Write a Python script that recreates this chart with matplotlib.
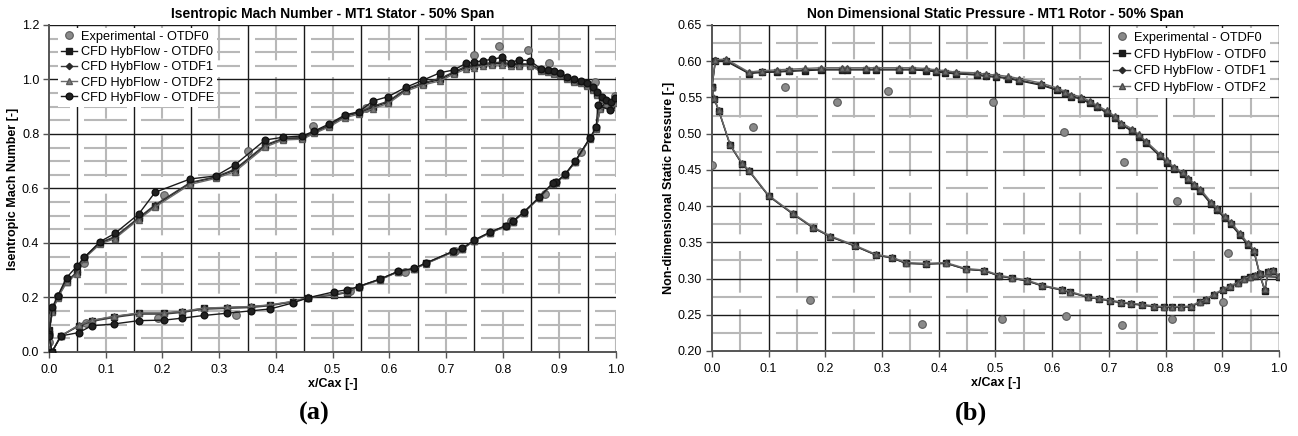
import matplotlib
matplotlib.use('Agg')
import matplotlib.pyplot as plt
import numpy as np

plt.rcParams['font.family'] = ['Liberation Sans', 'DejaVu Sans']
plt.rcParams['lines.scale_dashes'] = False

# ---------------- (a) isentropic Mach number, MT1 stator ----------------
xa_exp = [0.0, 0.015, 0.061, 0.203, 0.35, 0.466, 0.559, 0.75, 0.794, 0.844, 0.882, 0.963, 0.998,
          0.938, 0.875, 0.815, 0.716, 0.628, 0.53, 0.329, 0.193, 0.066]
ya_exp = [0.035, 0.207, 0.325, 0.576, 0.739, 0.829, 0.897, 1.09, 1.124, 1.108, 1.059, 0.992, 0.94,
          0.735, 0.58, 0.48, 0.37, 0.295, 0.225, 0.136, 0.126, 0.108]

# suction side (LE -> TE) then pressure side (TE -> LE)
xa_ss = [0.0, 0.006, 0.015, 0.031, 0.05, 0.062, 0.09, 0.116, 0.158, 0.187, 0.249, 0.294, 0.328, 0.381,
         0.413, 0.447, 0.468, 0.494, 0.522, 0.547, 0.571, 0.598, 0.629, 0.66, 0.69, 0.714, 0.735, 0.75,
         0.766, 0.781, 0.798, 0.814, 0.829, 0.848, 0.867, 0.88, 0.891, 0.901, 0.913, 0.926, 0.939, 0.949,
         0.959, 0.966, 0.975, 0.983, 0.991, 0.998]
xa_ps = [0.972, 0.965, 0.954, 0.928, 0.91, 0.895, 0.888, 0.865, 0.837, 0.818, 0.806, 0.778, 0.75, 0.729,
         0.713, 0.665, 0.644, 0.616, 0.584, 0.546, 0.525, 0.503, 0.457, 0.43, 0.39, 0.356, 0.313, 0.273,
         0.234, 0.203, 0.158, 0.115, 0.075, 0.052, 0.021, 0.005, 0.0]

ya0_ss = [0.08, 0.15, 0.20, 0.258, 0.292, 0.345, 0.40, 0.42, 0.49, 0.537, 0.62, 0.641, 0.668, 0.757,
          0.782, 0.785, 0.806, 0.83, 0.865, 0.878, 0.898, 0.917, 0.962, 0.985, 1.0, 1.025, 1.044, 1.048,
          1.055, 1.058, 1.059, 1.055, 1.054, 1.054, 1.035, 1.03, 1.025, 1.02, 1.005, 0.995, 0.99, 0.98,
          0.965, 0.948, 0.93, 0.915, 0.905, 0.92]
ya0_ps = [0.895, 0.821, 0.784, 0.698, 0.65, 0.622, 0.617, 0.567, 0.511, 0.478, 0.462, 0.438, 0.409, 0.378,
          0.368, 0.325, 0.305, 0.295, 0.266, 0.24, 0.218, 0.209, 0.199, 0.185, 0.172, 0.166, 0.163, 0.16,
          0.148, 0.142, 0.142, 0.13, 0.115, 0.097, 0.059, 0.0, 0.065]

ya1_ss = [0.078, 0.152, 0.202, 0.26, 0.295, 0.346, 0.402, 0.423, 0.493, 0.54, 0.622, 0.643, 0.671, 0.76,
          0.784, 0.787, 0.808, 0.832, 0.867, 0.88, 0.902, 0.92, 0.965, 0.988, 1.004, 1.028, 1.048, 1.052,
          1.058, 1.062, 1.063, 1.058, 1.058, 1.057, 1.037, 1.032, 1.027, 1.021, 1.007, 0.997, 0.992, 0.982,
          0.967, 0.95, 0.932, 0.918, 0.907, 0.922]
ya1_ps = [0.893, 0.82, 0.784, 0.699, 0.651, 0.623, 0.618, 0.568, 0.512, 0.479, 0.463, 0.439, 0.41, 0.379,
          0.369, 0.326, 0.306, 0.296, 0.267, 0.241, 0.22, 0.211, 0.2, 0.184, 0.17, 0.163, 0.16, 0.157,
          0.145, 0.139, 0.139, 0.127, 0.112, 0.095, 0.059, 0.0, 0.066]

ya2_ss = [0.075, 0.147, 0.198, 0.255, 0.288, 0.343, 0.396, 0.416, 0.486, 0.532, 0.615, 0.637, 0.662, 0.752,
          0.778, 0.781, 0.802, 0.826, 0.86, 0.873, 0.893, 0.912, 0.957, 0.98, 0.995, 1.02, 1.038, 1.043,
          1.05, 1.052, 1.054, 1.05, 1.049, 1.05, 1.03, 1.026, 1.021, 1.016, 1.001, 0.991, 0.986, 0.977,
          0.961, 0.944, 0.926, 0.911, 0.9, 0.915]
ya2_ps = [0.89, 0.818, 0.782, 0.697, 0.649, 0.621, 0.616, 0.566, 0.51, 0.477, 0.461, 0.437, 0.408, 0.377,
          0.367, 0.324, 0.304, 0.294, 0.265, 0.239, 0.22, 0.212, 0.2, 0.186, 0.173, 0.167, 0.164, 0.161,
          0.149, 0.143, 0.143, 0.131, 0.116, 0.098, 0.06, 0.0, 0.062]

xae_ps = [0.989, 0.968, 0.965, 0.954, 0.928, 0.91, 0.895, 0.888, 0.865, 0.837, 0.818, 0.806, 0.778, 0.75,
          0.729, 0.713, 0.665, 0.644, 0.616, 0.584, 0.546, 0.525, 0.503, 0.457, 0.43, 0.39, 0.356, 0.313,
          0.273, 0.234, 0.203, 0.158, 0.115, 0.075, 0.052, 0.021, 0.005, 0.0]
yae_ss = [0.065, 0.165, 0.205, 0.273, 0.317, 0.347, 0.405, 0.435, 0.506, 0.586, 0.635, 0.646, 0.687, 0.778,
          0.788, 0.793, 0.811, 0.837, 0.87, 0.882, 0.921, 0.937, 0.971, 0.998, 1.025, 1.035, 1.059, 1.064,
          1.069, 1.074, 1.081, 1.062, 1.072, 1.069, 1.04, 1.034, 1.032, 1.025, 1.01, 1.0, 0.995, 0.986,
          0.971, 0.955, 0.937, 0.925, 0.918, 0.933]
yae_ps = [0.888, 0.905, 0.825, 0.786, 0.70, 0.652, 0.624, 0.619, 0.569, 0.513, 0.48, 0.464, 0.44, 0.411,
          0.38, 0.37, 0.327, 0.307, 0.296, 0.268, 0.24, 0.228, 0.221, 0.199, 0.18, 0.158, 0.151, 0.142,
          0.134, 0.124, 0.117, 0.115, 0.103, 0.096, 0.071, 0.059, 0.0, 0.06]

# ---------------- (b) non dimensional static pressure, MT1 rotor ----------------
xb_exp = [0.0, 0.073, 0.129, 0.173, 0.221, 0.31, 0.37, 0.495, 0.511, 0.621, 0.624, 0.727, 0.724,
          0.82, 0.812, 0.901, 0.911]
yb_exp = [0.457, 0.5096, 0.564, 0.2704, 0.544, 0.5593, 0.2373, 0.5441, 0.2442, 0.5027, 0.2487, 0.4613,
          0.2359, 0.4075, 0.2442, 0.268, 0.3357]

# pressure side (LE -> TE) then suction side (TE -> LE)
xb_ps = [0.0, 0.006, 0.025, 0.065, 0.089, 0.114, 0.136, 0.164, 0.192, 0.229, 0.238, 0.272, 0.289, 0.33,
         0.353, 0.377, 0.395, 0.411, 0.43, 0.467, 0.483, 0.501, 0.523, 0.542, 0.58, 0.609, 0.623, 0.634,
         0.651, 0.666, 0.679, 0.696, 0.711, 0.722, 0.74, 0.753, 0.765, 0.79, 0.802, 0.815, 0.83, 0.839,
         0.851, 0.861, 0.88, 0.891, 0.905, 0.915, 0.931, 0.945, 0.956]
xb_ss = [0.966, 0.975, 0.981, 0.99, 1.0, 0.958, 0.949, 0.939, 0.927, 0.913, 0.901, 0.885, 0.871, 0.86,
         0.845, 0.828, 0.811, 0.797, 0.78, 0.758, 0.739, 0.721, 0.702, 0.683, 0.663, 0.632, 0.617, 0.583,
         0.555, 0.53, 0.507, 0.48, 0.448, 0.413, 0.377, 0.342, 0.318, 0.289, 0.252, 0.209, 0.179, 0.143,
         0.1, 0.065, 0.053, 0.032, 0.012, 0.004, 0.0]

yb0_ps = [0.564, 0.600, 0.600, 0.583, 0.5845, 0.585, 0.586, 0.587, 0.588, 0.588, 0.588, 0.588, 0.588,
          0.588, 0.588, 0.587, 0.5855, 0.584, 0.5825, 0.581, 0.579, 0.578, 0.576, 0.573, 0.567, 0.560,
          0.5557, 0.551, 0.548, 0.542, 0.5364, 0.529, 0.521, 0.512, 0.504, 0.496, 0.4875, 0.469, 0.46,
          0.451, 0.444, 0.436, 0.428, 0.421, 0.403, 0.394, 0.383, 0.375, 0.360, 0.3463, 0.337]
yb0_ss = [0.306, 0.283, 0.309, 0.311, 0.302, 0.3035, 0.3017, 0.299, 0.2934, 0.2888, 0.2842, 0.2773, 0.2704,
          0.2672, 0.2612, 0.2603, 0.2603, 0.2603, 0.2612, 0.2635, 0.2649, 0.2667, 0.2694, 0.2718, 0.2741,
          0.281, 0.2842, 0.2897, 0.297, 0.3003, 0.3035, 0.3108, 0.3128, 0.321, 0.32, 0.321, 0.3284, 0.3325,
          0.3449, 0.3578, 0.3698, 0.389, 0.4139, 0.4489, 0.4581, 0.4843, 0.5317, 0.5479, 0.564]

yb1_ps = [0.564, 0.601, 0.601, 0.584, 0.5855, 0.586, 0.587, 0.588, 0.589, 0.589, 0.589, 0.589, 0.589,
          0.589, 0.589, 0.588, 0.5865, 0.585, 0.5835, 0.582, 0.580, 0.579, 0.577, 0.574, 0.568, 0.561,
          0.5567, 0.552, 0.549, 0.543, 0.5374, 0.530, 0.522, 0.513, 0.505, 0.497, 0.4885, 0.470, 0.461,
          0.452, 0.445, 0.437, 0.429, 0.422, 0.404, 0.395, 0.384, 0.376, 0.361, 0.3473, 0.338]
yb1_ss = [0.306, 0.284, 0.309, 0.311, 0.302, 0.3035, 0.3017, 0.299, 0.2934, 0.2888, 0.2842, 0.2773, 0.2704,
          0.2672, 0.2612, 0.2603, 0.2603, 0.2603, 0.2612, 0.2635, 0.2649, 0.2667, 0.2694, 0.2718, 0.2741,
          0.281, 0.2842, 0.2897, 0.297, 0.3003, 0.3035, 0.3108, 0.3128, 0.321, 0.32, 0.321, 0.3284, 0.3325,
          0.3449, 0.3578, 0.3698, 0.389, 0.4139, 0.4489, 0.4581, 0.4843, 0.5317, 0.5479, 0.564]

yb2_ps = [0.565, 0.602, 0.603, 0.585, 0.587, 0.588, 0.589, 0.590, 0.591, 0.591, 0.591, 0.591, 0.591,
          0.591, 0.591, 0.590, 0.588, 0.587, 0.585, 0.584, 0.582, 0.581, 0.579, 0.576, 0.570, 0.563,
          0.558, 0.554, 0.551, 0.545, 0.539, 0.532, 0.524, 0.515, 0.507, 0.499, 0.490, 0.472, 0.463,
          0.454, 0.447, 0.439, 0.431, 0.424, 0.406, 0.397, 0.386, 0.378, 0.363, 0.349, 0.340]
yb2_ss = [0.307, 0.285, 0.310, 0.312, 0.303, 0.3045, 0.3027, 0.300, 0.2944, 0.2898, 0.2852, 0.2783, 0.2714,
          0.2682, 0.2622, 0.2613, 0.2613, 0.2613, 0.2622, 0.2645, 0.2659, 0.2677, 0.2704, 0.2728, 0.2751,
          0.282, 0.2852, 0.2907, 0.298, 0.3013, 0.3045, 0.3118, 0.3138, 0.322, 0.321, 0.322, 0.3294, 0.3335,
          0.3459, 0.3588, 0.3708, 0.390, 0.4149, 0.4499, 0.4591, 0.4853, 0.5327, 0.5489, 0.565]

fig = plt.figure(figsize=(12.98, 4.36), dpi=100)
axa = fig.add_axes([0.0378, 0.1927, 0.4368, 0.75])
axb = fig.add_axes([0.5485, 0.195, 0.4368, 0.7477])


def draw_grid(ax, xlim, ylim, bx, by, gx, gy):
    # gray broken lines first, black lines on top
    xgap = 0.0125 * (xlim[1] - xlim[0])
    breaks = [xlim[0]] + list(bx) + [xlim[1]]
    for y in gy:
        for a, b in zip(breaks[:-1], breaks[1:]):
            a2 = a + xgap if a > xlim[0] else a
            b2 = b - xgap if b < xlim[1] else b
            ax.plot([a2, b2], [y, y], color='#b8b8b8', lw=1.5, zorder=0.5, solid_capstyle='butt')
    for x in gx:
        ax.plot([x, x], ylim, color='#b8b8b8', lw=1.5, zorder=0.5, ls=(0, (30, 12)))
    for x in bx:
        ax.axvline(x, color='#1a1a1a', lw=1.0, zorder=0.6)
    for y in by:
        ax.axhline(y, color='#1a1a1a', lw=1.0, zorder=0.6)


def style_axes(ax):
    for s in ['top', 'right']:
        ax.spines[s].set_visible(False)
    for s in ['left', 'bottom']:
        ax.spines[s].set_color('#555555')
        ax.spines[s].set_linewidth(1.4)
    ax.tick_params(direction='out', length=4, width=1, color='#555555', labelsize=9, pad=3)
    ax.tick_params(axis='x', pad=5)


# ---- panel a
draw_grid(axa, (0, 1), (0, 1.2),
          np.arange(0.05, 1.0, 0.1), np.arange(0.2, 1.21, 0.2),
          np.arange(0.1, 1.01, 0.1),
          [v for v in np.arange(0.05, 1.2, 0.05) if abs(v / 0.2 - round(v / 0.2)) > 1e-6])

axa.plot(xa_exp, ya_exp, 'o', ls='none', ms=5.5, mfc='#8a8a8a', mec='#5a5a5a', mew=0.8,
         label='Experimental - OTDF0', zorder=3)
axa.plot(xa_ss + xa_ps, ya0_ss + ya0_ps, '-s', color='#1a1a1a', lw=1.0, ms=4.6,
         mfc='#1a1a1a', mec='#1a1a1a', label='CFD HybFlow - OTDF0', zorder=4)
axa.plot(xa_ss + xa_ps, ya1_ss + ya1_ps, '-D', color='#3a3a3a', lw=1.0, ms=3.2,
         mfc='#2a2a2a', mec='#2a2a2a', label='CFD HybFlow - OTDF1', zorder=4)
axa.plot(xa_ss + xa_ps, ya2_ss + ya2_ps, '-^', color='#6a6a6a', lw=1.0, ms=4.8,
         mfc='#7a7a7a', mec='#5a5a5a', label='CFD HybFlow - OTDF2', zorder=4)
axa.plot(xa_ss + xae_ps, yae_ss + yae_ps, '-o', color='#1a1a1a', lw=1.0, ms=4.8,
         mfc='#222222', mec='#111111', label='CFD HybFlow - OTDFE', zorder=5)

axa.set_xlim(0, 1)
axa.set_ylim(0, 1.2)
axa.set_xticks(np.arange(0, 1.01, 0.1))
axa.set_yticks(np.arange(0, 1.21, 0.2))
axa.xaxis.set_major_formatter(matplotlib.ticker.FormatStrFormatter('%.1f'))
axa.yaxis.set_major_formatter(matplotlib.ticker.FormatStrFormatter('%.1f'))
style_axes(axa)
axa.set_title('Isentropic Mach Number - MT1 Stator - 50% Span', fontsize=10, fontweight='bold', pad=5)
axa.set_xlabel('x/Cax [-]', fontsize=9, fontweight='bold', labelpad=1)
axa.set_ylabel('Isentropic Mach Number [-]', fontsize=9, fontweight='bold', labelpad=2)
lga = axa.legend(loc='upper left', bbox_to_anchor=(0.005, 1.01), fontsize=9.2, frameon=True,
                 facecolor='white', edgecolor='none', framealpha=1, fancybox=False,
                 handlelength=1.3, handletextpad=0.3, labelspacing=0.26, borderpad=0.2)
lga.set_zorder(10)

# ---- panel b
draw_grid(axb, (0, 1), (0.2, 0.65),
          np.arange(0.1, 1.01, 0.1), np.arange(0.25, 0.66, 0.05),
          np.arange(0.05, 1.0, 0.1), np.arange(0.225, 0.65, 0.05))

axb.plot(xb_exp, yb_exp, 'o', ls='none', ms=5.5, mfc='#8a8a8a', mec='#5a5a5a', mew=0.8,
         label='Experimental - OTDF0', zorder=3)
axb.plot(xb_ps + xb_ss, yb0_ps + yb0_ss, '-s', color='#1a1a1a', lw=1.0, ms=4.6,
         mfc='#1a1a1a', mec='#1a1a1a', label='CFD HybFlow - OTDF0', zorder=4)
axb.plot(xb_ps + xb_ss, yb1_ps + yb1_ss, '-D', color='#3a3a3a', lw=1.0, ms=3.2,
         mfc='#2a2a2a', mec='#2a2a2a', label='CFD HybFlow - OTDF1', zorder=4)
axb.plot(xb_ps + xb_ss, yb2_ps + yb2_ss, '-^', color='#6a6a6a', lw=1.0, ms=4.8,
         mfc='#6e6e6e', mec='#4a4a4a', label='CFD HybFlow - OTDF2', zorder=4)

axb.set_xlim(0, 1)
axb.set_ylim(0.2, 0.65)
axb.set_xticks(np.arange(0, 1.01, 0.1))
axb.set_yticks(np.arange(0.2, 0.651, 0.05))
axb.xaxis.set_major_formatter(matplotlib.ticker.FormatStrFormatter('%.1f'))
axb.yaxis.set_major_formatter(matplotlib.ticker.FormatStrFormatter('%.2f'))
style_axes(axb)
axb.set_title('Non Dimensional Static Pressure - MT1 Rotor - 50% Span', fontsize=10, fontweight='bold', pad=5)
axb.set_xlabel('x/Cax [-]', fontsize=9, fontweight='bold', labelpad=1)
axb.set_ylabel('Non-dimensional Static Pressure [-]', fontsize=9, fontweight='bold', labelpad=2)
lgb = axb.legend(loc='upper right', bbox_to_anchor=(0.995, 1.01), fontsize=9.2, frameon=True,
                 facecolor='white', edgecolor='none', framealpha=1, fancybox=False,
                 handlelength=1.3, handletextpad=0.3, labelspacing=0.36, borderpad=0.3)
lgb.set_zorder(10)

fig.text(314 / 1298, 1 - 413 / 436, '(a)', ha='center', va='center', fontsize=19,
         fontweight='bold', family=['Liberation Serif', 'DejaVu Serif'])
fig.text(971 / 1298, 1 - 413 / 436, '(b)', ha='center', va='center', fontsize=19,
         fontweight='bold', family=['Liberation Serif', 'DejaVu Serif'])

fig.savefig('out.png', dpi=100)
